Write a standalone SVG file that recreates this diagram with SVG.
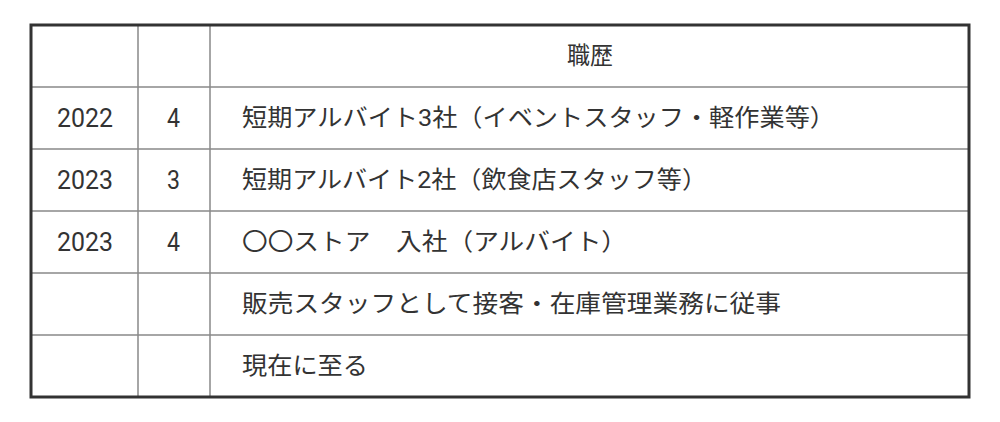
<svg xmlns="http://www.w3.org/2000/svg" width="1000" height="422" viewBox="0 0 1000 422">
<style>
.g{stroke:#888;stroke-width:1.5;fill:none}
text{font-family:Roboto,"Noto Sans CJK JP",sans-serif;font-size:24px;fill:#333;dominant-baseline:central}
.n{font-size:26px}
.c{text-anchor:middle}
</style>
<rect x="0" y="0" width="1000" height="422" fill="#fff"/>
<g id="grid">
<line class="g" x1="30" y1="87" x2="970" y2="87"/>
<line class="g" x1="30" y1="149" x2="970" y2="149"/>
<line class="g" x1="30" y1="211" x2="970" y2="211"/>
<line class="g" x1="30" y1="273" x2="970" y2="273"/>
<line class="g" x1="30" y1="335" x2="970" y2="335"/>
<line class="g" x1="138" y1="24" x2="138" y2="398"/>
<line class="g" x1="210" y1="24" x2="210" y2="398"/>
<rect x="31" y="25" width="938" height="372" fill="none" stroke="#333" stroke-width="3"/>
</g>
<g id="header"><text x="567" y="56" font-size="22" textLength="46" lengthAdjust="spacingAndGlyphs">職歴</text></g>
<g id="r1"><text class="n" x="57" y="118" textLength="56" lengthAdjust="spacingAndGlyphs">2022</text><text class="n" x="167" y="118" textLength="13" lengthAdjust="spacingAndGlyphs">4</text><text x="242" y="118" textLength="593" lengthAdjust="spacingAndGlyphs">短期アルバイト3社（イベントスタッフ・軽作業等）</text></g>
<g id="r2"><text class="n" x="57" y="180" textLength="56" lengthAdjust="spacingAndGlyphs">2023</text><text class="n" x="167" y="180" textLength="13" lengthAdjust="spacingAndGlyphs">3</text><text x="242" y="180" textLength="465" lengthAdjust="spacingAndGlyphs">短期アルバイト2社（飲食店スタッフ等）</text></g>
<g id="r3"><text class="n" x="57" y="242" textLength="56" lengthAdjust="spacingAndGlyphs">2023</text><text class="n" x="167" y="242" textLength="13" lengthAdjust="spacingAndGlyphs">4</text><text x="242" y="242" textLength="385" lengthAdjust="spacingAndGlyphs">〇〇ストア　入社（アルバイト）</text></g>
<g id="r4"><text x="242" y="304" textLength="539" lengthAdjust="spacingAndGlyphs">販売スタッフとして接客・在庫管理業務に従事</text></g>
<g id="r5"><text x="242" y="366" textLength="126" lengthAdjust="spacingAndGlyphs">現在に至る</text></g>
</svg>
